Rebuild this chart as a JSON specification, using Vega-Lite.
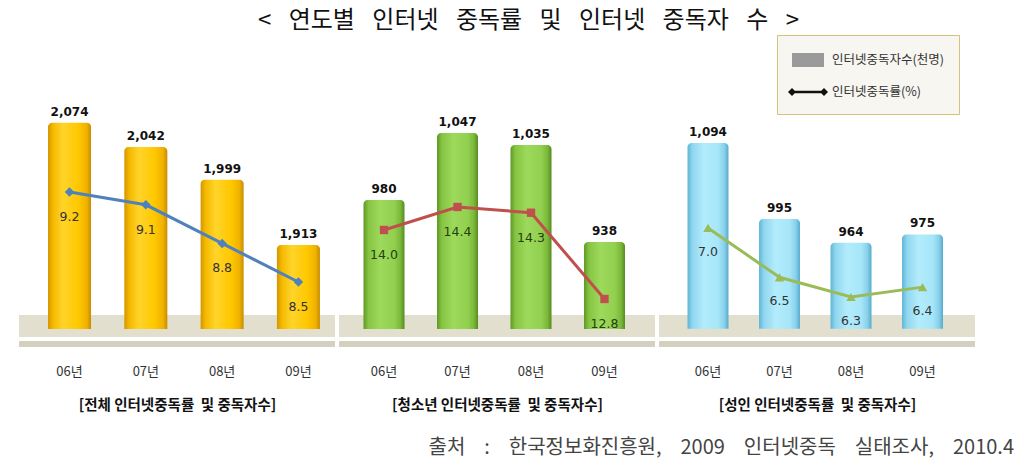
{
  "$schema": "https://vega.github.io/schema/vega-lite/v6.json",
  "background": "white",
  "padding": {"left": 15, "top": 8, "right": 5, "bottom": 5},
  "title": {"text": "< \u2002연도별 \u2002인터넷 \u2002중독률 \u2002및 \u2002인터넷 \u2002중독자 \u2002수 \u2002>", "fontSize": 24, "font": "Noto Sans CJK KR", "fontWeight": "normal", "color": "#111111", "anchor": "middle", "offset": 2, "dx": 14},
  "spacing": 0,
  "bounds": "flush",
  "datasets": {
    "stats": [
      {"group": "전체", "year": "06년", "count": 2074, "rate": 9.2},
      {"group": "전체", "year": "07년", "count": 2042, "rate": 9.1},
      {"group": "전체", "year": "08년", "count": 1999, "rate": 8.8},
      {"group": "전체", "year": "09년", "count": 1913, "rate": 8.5},
      {"group": "청소년", "year": "06년", "count": 980, "rate": 14.0},
      {"group": "청소년", "year": "07년", "count": 1047, "rate": 14.4},
      {"group": "청소년", "year": "08년", "count": 1035, "rate": 14.3},
      {"group": "청소년", "year": "09년", "count": 938, "rate": 12.8},
      {"group": "성인", "year": "06년", "count": 1094, "rate": 7.0},
      {"group": "성인", "year": "07년", "count": 995, "rate": 6.5},
      {"group": "성인", "year": "08년", "count": 964, "rate": 6.3},
      {"group": "성인", "year": "09년", "count": 975, "rate": 6.4}
    ]
  },
  "hconcat": [
    {
      "width": 320, "height": 245,
      "data": {"name": "stats"},
      "transform": [{"filter": "datum.group === '전체'"}],
      "resolve": {"scale": {"y": "independent"}},
      "layer": [
        {
          "layer": [
            {"mark": {"type": "rect", "color": "#e2dfcf", "stroke": "white", "strokeWidth": 4},
             "encoding": {"x": {"value": 0}, "x2": {"value": "width"}, "y": {"datum": 1823.2, "type": "quantitative", "scale": {"domain": [1781, 2104], "nice": false, "zero": false}, "axis": null}, "y2": {"datum": 1788.9}}},
            {"mark": {"type": "rect", "color": "#d3d0c0", "stroke": "white", "strokeWidth": 4},
             "encoding": {"x": {"value": 0}, "x2": {"value": "width"}, "y": {"datum": 1788.9, "type": "quantitative", "scale": {"domain": [1781, 2104], "nice": false, "zero": false}, "axis": null}, "y2": {"datum": 1775.7}}},
            {"mark": {"type": "bar", "cornerRadiusTopLeft": 4, "cornerRadiusTopRight": 4,
               "color": {"gradient": "linear", "x1": 0, "x2": 1, "y1": 0, "y2": 0, "stops": [
                 {"offset": 0, "color": "#d49600"}, {"offset": 0.12, "color": "#f5ba00"}, {"offset": 0.35, "color": "#ffd42a"},
                 {"offset": 0.7, "color": "#ffc800"}, {"offset": 0.9, "color": "#f0b200"}, {"offset": 1, "color": "#c68c00"}]}},
             "encoding": {
               "x": {"field": "year", "type": "ordinal", "scale": {"paddingInner": 0.436, "paddingOuter": 0.315, "align": 0.645}, "axis": {"title": "[전체 인터넷중독률 \u00a0및 중독자수]"}},
               "y": {"field": "count", "type": "quantitative", "scale": {"domain": [1781, 2104], "nice": false, "zero": false}, "axis": null},
               "y2": {"datum": 1802}}},
            {"mark": {"type": "text", "font": "DejaVu Sans", "fontWeight": "bold", "fontSize": 12, "color": "#111111", "baseline": "bottom", "dy": -4},
             "encoding": {
               "x": {"field": "year", "type": "ordinal", "scale": {"paddingInner": 0.436, "paddingOuter": 0.315, "align": 0.645}, "axis": {"title": "[전체 인터넷중독률 \u00a0및 중독자수]"}},
               "y": {"field": "count", "type": "quantitative", "scale": {"domain": [1781, 2104], "nice": false, "zero": false}, "axis": null},
               "text": {"field": "count", "format": ","}}}
          ]
        },
        {
          "layer": [
            {"mark": {"type": "line", "color": "#4f81bd", "strokeWidth": 3, "point": {"shape": "diamond", "size": 90, "filled": true, "color": "#4f81bd"}},
             "encoding": {
               "x": {"field": "year", "type": "ordinal", "scale": {"paddingInner": 0.436, "paddingOuter": 0.315, "align": 0.645}, "axis": {"title": "[전체 인터넷중독률 \u00a0및 중독자수]"}},
               "y": {"field": "rate", "type": "quantitative", "scale": {"domain": [8.01, 9.915], "nice": false, "zero": false}, "axis": null}}},
            {"mark": {"type": "text", "font": "DejaVu Sans", "fontSize": 12.5, "color": "#333333", "baseline": "middle", "dy": 25},
             "encoding": {
               "x": {"field": "year", "type": "ordinal", "scale": {"paddingInner": 0.436, "paddingOuter": 0.315, "align": 0.645}, "axis": {"title": "[전체 인터넷중독률 \u00a0및 중독자수]"}},
               "y": {"field": "rate", "type": "quantitative", "scale": {"domain": [8.01, 9.915], "nice": false, "zero": false}, "axis": null},
               "text": {"field": "rate", "format": ".1f"}}}
          ]
        }
      ]
    },
    {
      "width": 320, "height": 245,
      "data": {"name": "stats"},
      "transform": [{"filter": "datum.group === '청소년'"}],
      "resolve": {"scale": {"y": "independent"}},
      "layer": [
        {
          "layer": [
            {"mark": {"type": "rect", "color": "#e2dfcf", "stroke": "white", "strokeWidth": 4},
             "encoding": {"x": {"value": 0}, "x2": {"value": "width"}, "y": {"datum": 867, "type": "quantitative", "scale": {"domain": [835, 1080], "nice": false, "zero": false}, "axis": null}, "y2": {"datum": 841}}},
            {"mark": {"type": "rect", "color": "#d3d0c0", "stroke": "white", "strokeWidth": 4},
             "encoding": {"x": {"value": 0}, "x2": {"value": "width"}, "y": {"datum": 841, "type": "quantitative", "scale": {"domain": [835, 1080], "nice": false, "zero": false}, "axis": null}, "y2": {"datum": 831}}},
            {"mark": {"type": "bar", "cornerRadiusTopLeft": 4, "cornerRadiusTopRight": 4,
               "color": {"gradient": "linear", "x1": 0, "x2": 1, "y1": 0, "y2": 0, "stops": [
                 {"offset": 0, "color": "#5e9824"}, {"offset": 0.12, "color": "#86c443"}, {"offset": 0.4, "color": "#9dd95b"},
                 {"offset": 0.75, "color": "#92d050"}, {"offset": 0.9, "color": "#7cb83a"}, {"offset": 1, "color": "#548c1f"}]}},
             "encoding": {
               "x": {"field": "year", "type": "ordinal", "scale": {"paddingInner": 0.442, "paddingOuter": 0.398, "align": 0.453}, "axis": {"title": "[청소년 인터넷중독률 \u00a0및 중독자수]"}},
               "y": {"field": "count", "type": "quantitative", "scale": {"domain": [835, 1080], "nice": false, "zero": false}, "axis": null},
               "y2": {"datum": 851}}},
            {"mark": {"type": "text", "font": "DejaVu Sans", "fontWeight": "bold", "fontSize": 12, "color": "#111111", "baseline": "bottom", "dy": -4},
             "encoding": {
               "x": {"field": "year", "type": "ordinal", "scale": {"paddingInner": 0.442, "paddingOuter": 0.398, "align": 0.453}, "axis": {"title": "[청소년 인터넷중독률 \u00a0및 중독자수]"}},
               "y": {"field": "count", "type": "quantitative", "scale": {"domain": [835, 1080], "nice": false, "zero": false}, "axis": null},
               "text": {"field": "count", "format": ","}}}
          ]
        },
        {
          "layer": [
            {"mark": {"type": "line", "color": "#c0504d", "strokeWidth": 3, "point": {"shape": "square", "size": 70, "filled": true, "color": "#c0504d"}},
             "encoding": {
               "x": {"field": "year", "type": "ordinal", "scale": {"paddingInner": 0.442, "paddingOuter": 0.398, "align": 0.453}, "axis": {"title": "[청소년 인터넷중독률 \u00a0및 중독자수]"}},
               "y": {"field": "rate", "type": "quantitative", "scale": {"domain": [12.0, 16.26], "nice": false, "zero": false}, "axis": null}}},
            {"mark": {"type": "text", "font": "DejaVu Sans", "fontSize": 12.5, "color": "#23400f", "baseline": "middle", "dy": 25},
             "encoding": {
               "x": {"field": "year", "type": "ordinal", "scale": {"paddingInner": 0.442, "paddingOuter": 0.398, "align": 0.453}, "axis": {"title": "[청소년 인터넷중독률 \u00a0및 중독자수]"}},
               "y": {"field": "rate", "type": "quantitative", "scale": {"domain": [12.0, 16.26], "nice": false, "zero": false}, "axis": null},
               "text": {"field": "rate", "format": ".1f"}}}
          ]
        }
      ]
    },
    {
      "width": 320, "height": 245,
      "data": {"name": "stats"},
      "transform": [{"filter": "datum.group === '성인'"}],
      "title": {"text": "출처 \u2002\u00a0: \u2002\u00a0한국정보화진흥원, \u2002\u00a02009 \u2002\u00a0인터넷중독 \u2002\u00a0실태조사, \u2002\u00a02010.4", "orient": "bottom", "anchor": "end", "fontSize": 20, "fontWeight": "normal", "font": "Noto Sans CJK KR", "color": "#444444", "offset": 26, "dx": 35},
      "resolve": {"scale": {"y": "independent"}},
      "layer": [
        {
          "layer": [
            {"mark": {"type": "rect", "color": "#e2dfcf", "stroke": "white", "strokeWidth": 4},
             "encoding": {"x": {"value": 0}, "x2": {"value": "width"}, "y": {"datum": 872.7, "type": "quantitative", "scale": {"domain": [831, 1150], "nice": false, "zero": false}, "axis": null}, "y2": {"datum": 838.8}}},
            {"mark": {"type": "rect", "color": "#d3d0c0", "stroke": "white", "strokeWidth": 4},
             "encoding": {"x": {"value": 0}, "x2": {"value": "width"}, "y": {"datum": 838.8, "type": "quantitative", "scale": {"domain": [831, 1150], "nice": false, "zero": false}, "axis": null}, "y2": {"datum": 825.8}}},
            {"mark": {"type": "bar", "cornerRadiusTopLeft": 4, "cornerRadiusTopRight": 4,
               "color": {"gradient": "linear", "x1": 0, "x2": 1, "y1": 0, "y2": 0, "stops": [
                 {"offset": 0, "color": "#5cb5d6"}, {"offset": 0.12, "color": "#90d6ef"}, {"offset": 0.4, "color": "#b2ecfc"},
                 {"offset": 0.75, "color": "#a6e6f8"}, {"offset": 0.9, "color": "#88d0ea"}, {"offset": 1, "color": "#55abcc"}]}},
             "encoding": {
               "x": {"field": "year", "type": "ordinal", "scale": {"paddingInner": 0.427, "paddingOuter": 0.451, "align": 0.473}, "axis": {"title": "[성인 인터넷중독률 \u00a0및 중독자수]"}},
               "y": {"field": "count", "type": "quantitative", "scale": {"domain": [831, 1150], "nice": false, "zero": false}, "axis": null},
               "y2": {"datum": 852}}},
            {"mark": {"type": "text", "font": "DejaVu Sans", "fontWeight": "bold", "fontSize": 12, "color": "#111111", "baseline": "bottom", "dy": -4},
             "encoding": {
               "x": {"field": "year", "type": "ordinal", "scale": {"paddingInner": 0.427, "paddingOuter": 0.451, "align": 0.473}, "axis": {"title": "[성인 인터넷중독률 \u00a0및 중독자수]"}},
               "y": {"field": "count", "type": "quantitative", "scale": {"domain": [831, 1150], "nice": false, "zero": false}, "axis": null},
               "text": {"field": "count", "format": ","}}}
          ]
        },
        {
          "layer": [
            {"mark": {"type": "line", "color": "#9bbb59", "strokeWidth": 3, "point": {"shape": "triangle-up", "size": 90, "filled": true, "color": "#9bbb59"}},
             "encoding": {
               "x": {"field": "year", "type": "ordinal", "scale": {"paddingInner": 0.427, "paddingOuter": 0.451, "align": 0.473}, "axis": {"title": "[성인 인터넷중독률 \u00a0및 중독자수]"}},
               "y": {"field": "rate", "type": "quantitative", "scale": {"domain": [5.813, 8.298], "nice": false, "zero": false}, "axis": null}}},
            {"mark": {"type": "text", "font": "DejaVu Sans", "fontSize": 12.5, "color": "#333333", "baseline": "middle", "dy": 24},
             "encoding": {
               "x": {"field": "year", "type": "ordinal", "scale": {"paddingInner": 0.427, "paddingOuter": 0.451, "align": 0.473}, "axis": {"title": "[성인 인터넷중독률 \u00a0및 중독자수]"}},
               "y": {"field": "rate", "type": "quantitative", "scale": {"domain": [5.813, 8.298], "nice": false, "zero": false}, "axis": null},
               "text": {"field": "rate", "format": ".1f"}}}
          ]
        },
        {
          "data": {"values": [{"item": "인터넷중독자수(천명)"}, {"item": "인터넷중독률(%)"}]},
          "mark": {"type": "point", "opacity": 0, "filled": true, "size": 400},
          "encoding": {
            "color": {"field": "item", "type": "nominal",
              "scale": {"domain": ["인터넷중독자수(천명)", "인터넷중독률(%)"], "range": ["#9a9a9a", "#111111"]},
              "legend": {"orient": "none", "legendX": 760, "legendY": -65, "title": null, "labelFontSize": 12.5, "labelColor": "#333333", "labelFont": "Noto Sans CJK KR",
                "fillColor": "#f7f6f1", "strokeColor": "#d3c47a", "padding": 15, "rowPadding": 15, "symbolSize": 400, "symbolOffset": 6, "labelOffset": 14,
                "symbolStrokeWidth": 0, "symbolOpacity": 1,
                "encode": {"symbols": {"update": {"opacity": {"value": 1}}}}}},
            "shape": {"field": "item", "type": "nominal",
              "scale": {"domain": ["인터넷중독자수(천명)", "인터넷중독률(%)"], "range": ["M -1.6 -0.7 L 1.6 -0.7 L 1.6 0.7 L -1.6 0.7 Z", "M -1.75 -0.12 L 1.75 -0.12 L 1.75 0.12 L -1.75 0.12 Z M -2 0 L -1.6 -0.4 L -1.2 0 L -1.6 0.4 Z M 1.2 0 L 1.6 -0.4 L 2 0 L 1.6 0.4 Z"]}}
          }
        }
      ]
    }
  ],
  "config": {
    "view": {"stroke": null},
    "font": "Noto Sans CJK KR",
    "axis": {"domain": false, "ticks": false, "grid": false, "labelAngle": 0, "labelFontSize": 13, "labelColor": "#333333", "labelPadding": 20,
      "titleFontSize": 14.5, "titleFontWeight": "bold", "titleColor": "#111111", "titlePadding": 20}
  }
}
